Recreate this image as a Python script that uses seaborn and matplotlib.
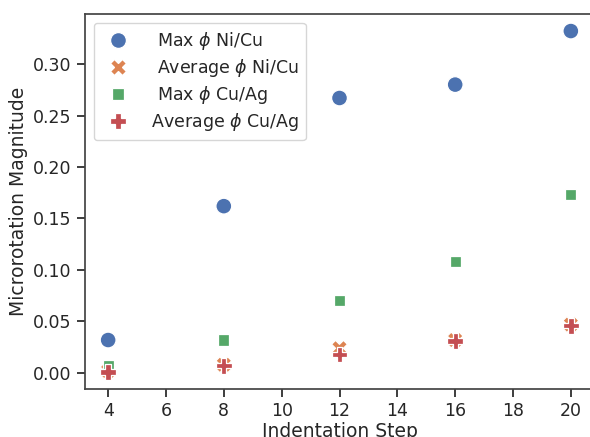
import pandas as pd
import matplotlib
matplotlib.use("Agg")
import matplotlib.pyplot as plt
import seaborn as sns

# Data
steps = [4, 8, 12, 16, 20]
max_ni_cu = [0.032, 0.162, 0.267, 0.280, 0.332]
avg_ni_cu = [0.002, 0.008, 0.024, 0.032, 0.047]
max_cu_ag = [0.007, 0.032, 0.070, 0.108, 0.173]
avg_cu_ag = [0.001, 0.007, 0.018, 0.031, 0.046]
labels = [r"  Max $\phi$ Ni/Cu", r"  Average $\phi$ Ni/Cu",
          r"  Max $\phi$ Cu/Ag", r" Average $\phi$ Cu/Ag"]

df = pd.DataFrame({
    "step": steps * 4,
    "value": max_ni_cu + avg_ni_cu + max_cu_ag + avg_cu_ag,
    "series": [l for l in labels for _ in steps],
})

sns.set_theme(style="ticks", palette="deep")

fig = plt.figure(figsize=(5.9, 4.37), dpi=100)
ax = fig.add_axes([85 / 590, 48 / 437, 509 / 590, 375 / 437])

sns.scatterplot(data=df, x="step", y="value", hue="series", style="series",
                s=130, ax=ax)

ax.set_xlim(3.2, 20.8)
ax.set_xticks(range(4, 21, 2))
ax.set_xlabel("Indentation Step", fontsize=13.5, labelpad=1)
ax.set_ylabel("Microrotation Magnitude", fontsize=13.5)
ax.tick_params(labelsize=12.5)
for sp in ax.spines.values():
    sp.set_color("#444444")

leg = ax.legend(loc="upper left", fontsize=12.5, labelspacing=0.3,
                handletextpad=0.6)
leg.set_title(None)

fig.savefig("out.png", dpi=100)
